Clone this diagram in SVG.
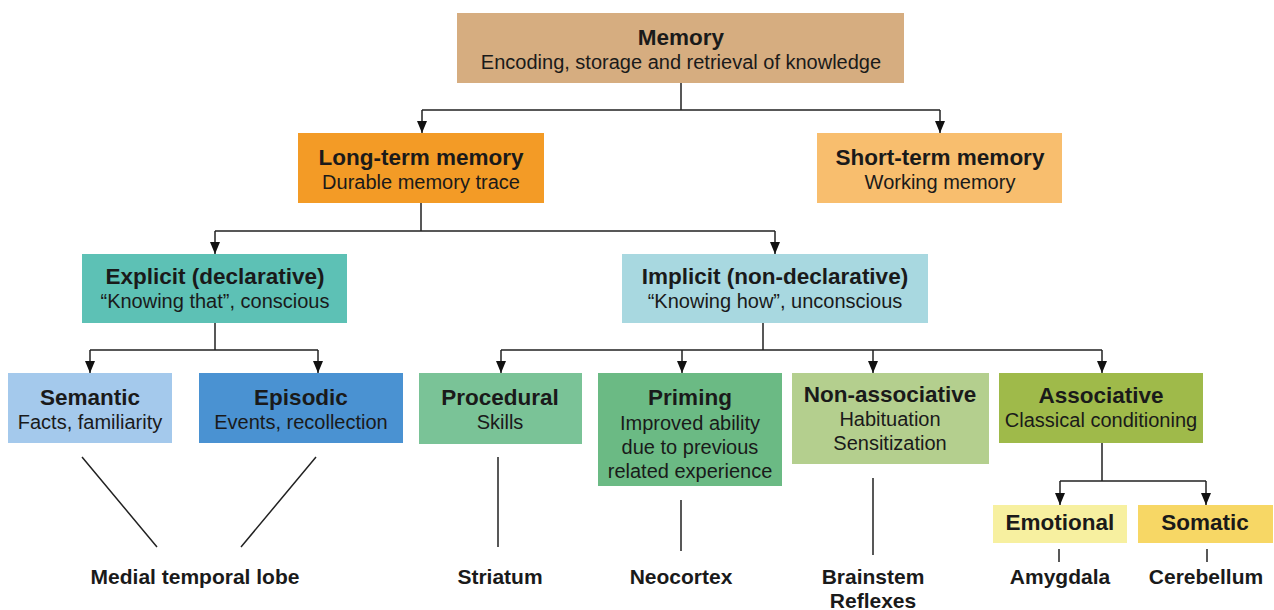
<svg xmlns="http://www.w3.org/2000/svg" width="1274" height="610" viewBox="0 0 1274 610">
<defs>
<marker id="ah" markerWidth="12" markerHeight="10" refX="12" refY="5" orient="auto" markerUnits="userSpaceOnUse" viewBox="0 0 12 10">
<path d="M0,0 L12,5 L0,10 Z" fill="#111"/>
</marker>
<style>
text{font-family:"Liberation Sans",Arial,sans-serif;fill:#1a1a1a;text-anchor:middle}
.t{font-size:22.5px;font-weight:bold}
.s{font-size:20px}
.b{font-size:21px;font-weight:bold}
.c{stroke:#222;stroke-width:1.5;fill:none}
.a{stroke:#222;stroke-width:1.5;fill:none;marker-end:url(#ah)}
</style>
</defs>
<rect width="1274" height="610" fill="#fff"/>
<g id="connectors">
<path class="c" d="M681,83 V110 M422,110 H940"/>
<path class="a" d="M422,110 V133"/>
<path class="a" d="M940,110 V133"/>
<path class="c" d="M421,203 V231 M215,231 H775"/>
<path class="a" d="M215,231 V254"/>
<path class="a" d="M775,231 V254"/>
<path class="c" d="M215,323 V350 M90,350 H318"/>
<path class="a" d="M90,350 V373"/>
<path class="a" d="M318,350 V373"/>
<path class="c" d="M763,323 V350 M501,350 H1102"/>
<path class="a" d="M501,350 V373"/>
<path class="a" d="M682,350 V373"/>
<path class="a" d="M873,350 V373"/>
<path class="a" d="M1102,350 V373"/>
<path class="c" d="M1102,443 V481 M1060,481 H1206"/>
<path class="a" d="M1060,481 V505"/>
<path class="a" d="M1206,481 V505"/>
<path class="c" d="M82,457 L157,547 M316,457 L241,547 M498,457 V547 M681,500 V551 M873,478 V555 M1059,549 V562 M1207,549 V562" stroke-width="1.3"/>
</g>
<g id="memory"><rect x="457" y="13" width="447" height="70" fill="#D6AD80"/>
<text class="t" x="681" y="45">Memory</text><text class="s" x="681" y="69">Encoding, storage and retrieval of knowledge</text></g>
<g id="long-term"><rect x="298" y="133" width="246" height="70" fill="#F39B26"/>
<text class="t" x="421" y="165">Long-term memory</text><text class="s" x="421" y="189">Durable memory trace</text></g>
<g id="short-term"><rect x="817" y="133" width="245" height="70" fill="#F8BE6E"/>
<text class="t" x="940" y="165">Short-term memory</text><text class="s" x="940" y="189">Working memory</text></g>
<g id="explicit"><rect x="82" y="254" width="265" height="69" fill="#5DC1B5"/>
<text class="t" x="215" y="284">Explicit (declarative)</text><text class="s" x="215" y="308">“Knowing that”, conscious</text></g>
<g id="implicit"><rect x="622" y="254" width="306" height="69" fill="#A8D8E0"/>
<text class="t" x="775" y="284">Implicit (non-declarative)</text><text class="s" x="775" y="308">“Knowing how”, unconscious</text></g>
<g id="semantic"><rect x="8" y="373" width="164" height="70" fill="#A4C9EC"/>
<text class="t" x="90" y="405">Semantic</text><text class="s" x="90" y="429">Facts, familiarity</text></g>
<g id="episodic"><rect x="199" y="373" width="204" height="70" fill="#4A92D2"/>
<text class="t" x="301" y="405">Episodic</text><text class="s" x="301" y="429">Events, recollection</text></g>
<g id="procedural"><rect x="419" y="373" width="163" height="71" fill="#7AC397"/>
<text class="t" x="500" y="405">Procedural</text><text class="s" x="500" y="429">Skills</text></g>
<g id="priming"><rect x="598" y="373" width="184" height="113" fill="#6BBA84"/>
<text class="t" x="690" y="405">Priming</text><text class="s" x="690" y="430">Improved ability</text><text class="s" x="690" y="454">due to previous</text><text class="s" x="690" y="478">related experience</text></g>
<g id="non-associative"><rect x="792" y="373" width="197" height="91" fill="#B4CF8E"/>
<text class="t" x="890" y="402">Non-associative</text><text class="s" x="890" y="426">Habituation</text><text class="s" x="890" y="450">Sensitization</text></g>
<g id="associative"><rect x="999" y="373" width="204" height="70" fill="#9FBA4A"/>
<text class="t" x="1101" y="403">Associative</text><text class="s" x="1101" y="427">Classical conditioning</text></g>
<g id="emotional"><rect x="993" y="505" width="134" height="38" fill="#F7F0A0"/>
<text class="t" x="1060" y="530">Emotional</text></g>
<g id="somatic"><rect x="1138" y="505" width="135" height="38" fill="#F7D765"/>
<text class="t" x="1205" y="530">Somatic</text></g>
<g id="labels">
<text class="b" x="195" y="584">Medial temporal lobe</text>
<text class="b" x="500" y="584">Striatum</text>
<text class="b" x="681" y="584">Neocortex</text>
<text class="b" x="873" y="584">Brainstem</text>
<text class="b" x="873" y="608">Reflexes</text>
<text class="b" x="1060" y="584">Amygdala</text>
<text class="b" x="1206" y="584">Cerebellum</text>
</g>
</svg>
